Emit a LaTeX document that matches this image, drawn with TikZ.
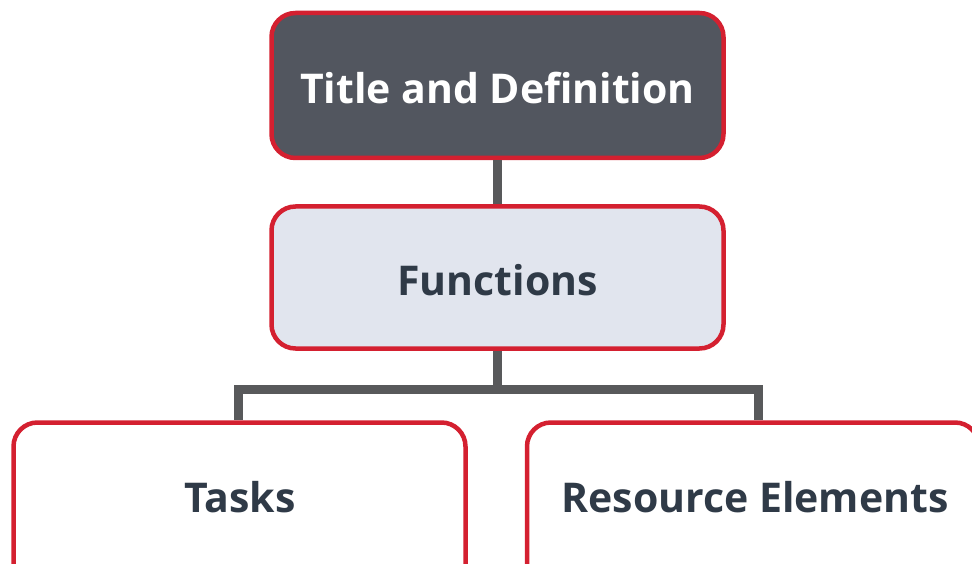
\documentclass[tikz,border=0pt]{standalone}
\usepackage{fontspec}
\setmainfont{Open Sans}
\definecolor{boxred}{HTML}{D42030}
\definecolor{darkfill}{HTML}{52565F}
\definecolor{lightfill}{HTML}{E1E5EE}
\definecolor{linkgray}{HTML}{58595B}
\definecolor{txtdark}{HTML}{2F3A47}
\begin{document}
\begin{tikzpicture}[x=1pt,y=-1pt,
  box/.style={draw=boxred, line width=4.5pt, rounded corners=24pt,
    minimum width=452pt, inner sep=0pt},
  lbl/.style={inner sep=0pt, font=\fontsize{41}{49}\selectfont\bfseries},
  link/.style={draw=linkgray, line width=9pt}]
\clip (0,0) rectangle (972,564);
\useasboundingbox (0,0) rectangle (972,564);
\node[box, fill=darkfill, minimum height=145pt] (title) at (497.5,85.5) {};
\node[lbl, text=white] (titletext) at (497.5,88) {Title and Definition};
\node[box, fill=lightfill, minimum height=142pt] (func) at (497.5,277.5) {};
\node[lbl, text=txtdark] (functext) at (497.5,280) {Functions};
\node[box, fill=white, minimum height=200pt] (tasks) at (239.5,522.5) {};
\node[lbl, text=txtdark] (taskstext) at (240,497) {Tasks};
\node[box, fill=white, minimum height=200pt] (res) at (753,522.5) {};
\node[lbl, text=txtdark] (restext) at (755,497) {Resource Elements};
\coordinate (hub) at (497.5,389);
\coordinate (lt) at (238,389);
\coordinate (rt) at (758,389);
\draw[link] (title.south) -- (func.north);
\draw[link] (func.south) -- (hub);
\draw[link, line cap=rect] (lt) -- (rt);
\draw[link] (lt) -- (lt |- tasks.north);
\draw[link] (rt) -- (rt |- res.north);
\end{tikzpicture}
\end{document}
